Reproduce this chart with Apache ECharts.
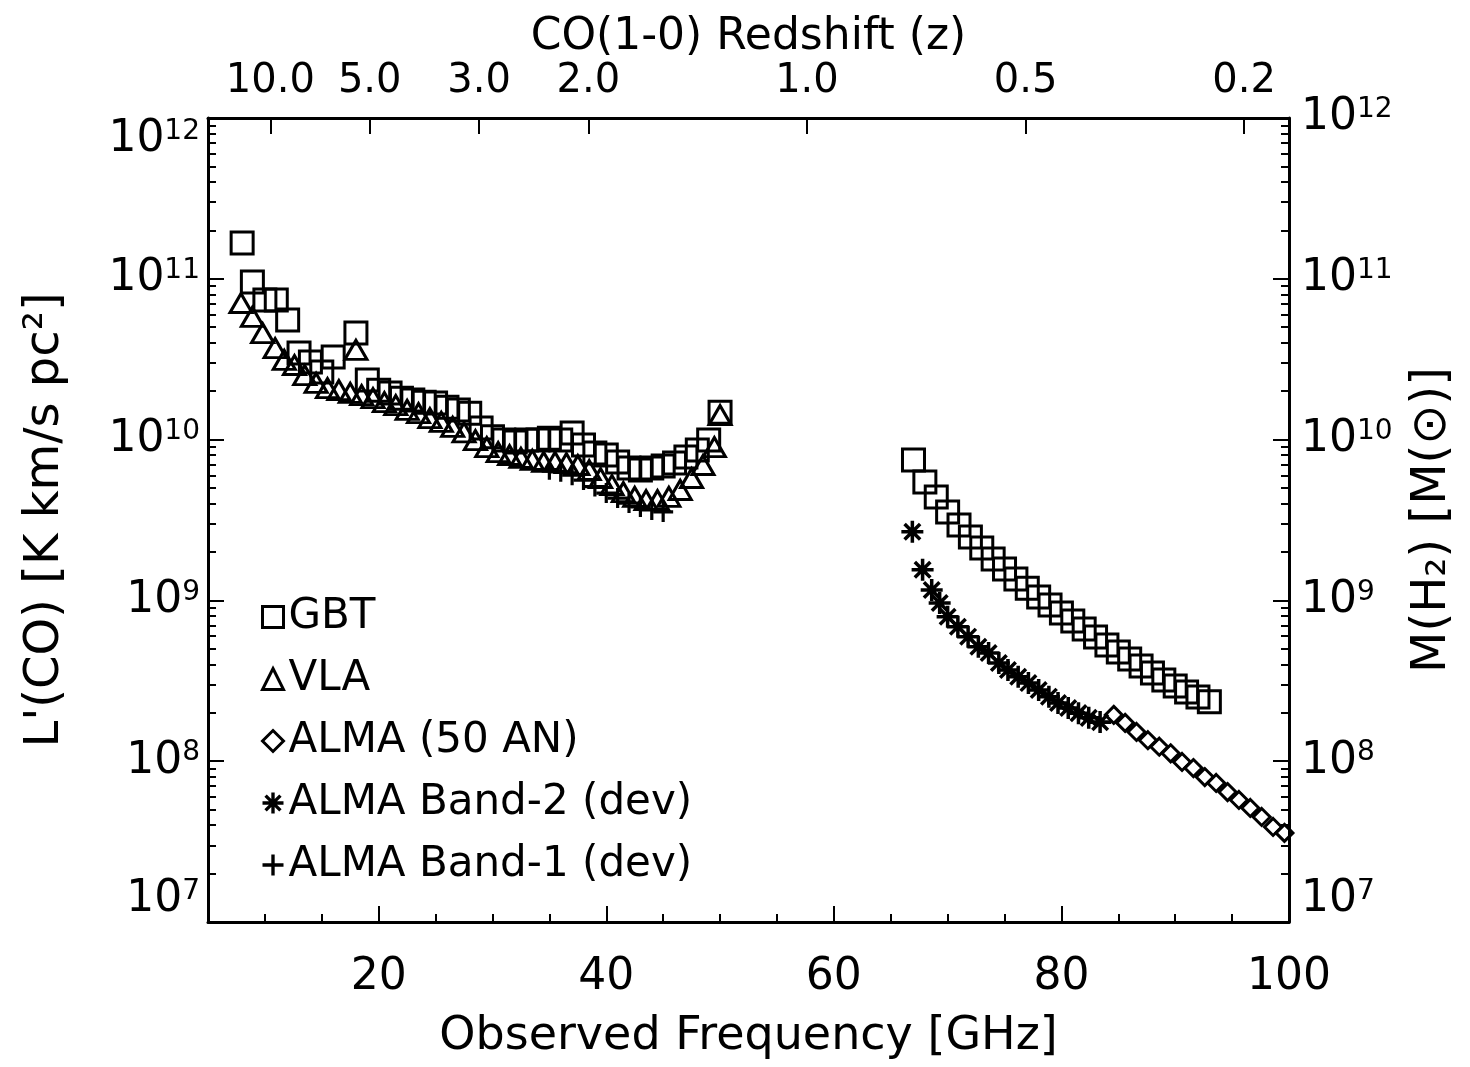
<!DOCTYPE html>
<html>
<head>
<meta charset="utf-8">
<script src="https://cdn.jsdelivr.net/npm/echarts@6/dist/echarts.min.js"></script>
<style>
html,body{margin:0;padding:0;background:#fff;}
#chart{width:1470px;height:1067px;}
</style>
</head>
<body>
<div id="chart"></div>
<script>
// ---------------- data ----------------
const gbtFreq = [8.0, 8.9, 10.0, 11.0, 12.0, 13.0, 14.0, 15.0, 16.0, 18.0, 19.0, 20.0, 21.0, 22.0, 23.0, 24.0, 25.0, 26.0, 27.0, 28.0,
  29.0, 30.0, 31.0, 32.0, 33.0, 34.0, 35.0, 36.0, 37.0, 38.0, 39.0, 40.0, 41.0, 42.0, 43.0, 44.0, 45.0, 46.0, 47.0, 48.0, 49.0, 50.0,
  67, 68, 69, 70, 71, 72, 73, 74, 75, 76, 77, 78, 79, 80, 81, 82, 83, 84, 85, 86, 87, 88, 89, 90, 91, 92, 93];
const gbtLco = [1.67e11, 9.55e10, 7.38e10, 7.38e10, 5.54e10, 3.46e10, 3.04e10, 2.63e10, 3.26e10, 4.60e10, 2.35e10, 2.03e10, 1.95e10, 1.81e10, 1.76e10, 1.71e10, 1.69e10, 1.59e10, 1.53e10, 1.46e10,
  1.18e10, 1.04e10, 9.94e9, 9.66e9, 9.94e9, 9.94e9, 1.02e10, 9.94e9, 1.10e10, 9.26e9, 8.25e9, 8.02e9, 7.26e9, 6.66e9, 6.47e9, 6.66e9, 6.85e9, 7.15e9, 7.80e9, 8.62e9, 9.94e9, 1.48e10,
  7.47e9, 5.45e9, 4.40e9, 3.55e9, 2.94e9, 2.48e9, 2.12e9, 1.81e9, 1.57e9, 1.36e9, 1.19e9, 1.05e9, 9.36e8, 8.35e8, 7.45e8, 6.64e8, 5.92e8, 5.28e8, 4.78e8, 4.32e8, 3.91e8, 3.54e8, 3.20e8, 2.94e8, 2.69e8, 2.51e8, 2.34e8];

const vlaFreq = [7.9, 8.9, 9.8, 10.9, 11.7, 12.6, 13.5, 14.5, 15.5, 16.5, 17.5, 18.0, 18.5, 19.5, 20.5, 21.5, 22.5, 23.5, 24.5, 25.5,
  26.5, 27.5, 28.5, 29.5, 30.5, 31.5, 32.5, 33.5, 34.5, 35.5, 36.5, 37.5, 38.5, 39.5, 40.5, 41.5, 42.5, 43.5, 44.5, 45.5, 46.5, 47.5, 48.5, 49.5, 50.0];
const vlaLco = [7.07e10, 5.79e10, 4.60e10, 3.71e10, 3.13e10, 2.91e10, 2.52e10, 2.25e10, 2.09e10, 2.03e10, 1.95e10, 3.61e10, 1.89e10, 1.81e10, 1.71e10, 1.64e10, 1.53e10, 1.46e10, 1.36e10, 1.29e10,
  1.20e10, 1.11e10, 9.94e9, 8.99e9, 8.37e9, 8.02e9, 7.69e9, 7.47e9, 7.26e9, 7.26e9, 7.15e9, 6.95e9, 6.47e9, 5.77e9, 5.22e9, 4.72e9, 4.40e9, 4.21e9, 4.21e9, 4.40e9, 4.86e9, 5.77e9, 6.95e9, 8.99e9, 1.42e10];

const almaFreq = [84.6, 85.6, 86.6, 87.6, 88.6, 89.6, 90.6, 91.6, 92.6, 93.6, 94.6, 95.6, 96.6, 97.6, 98.6, 99.6];
const almaLco = [1.94e8, 1.73e8, 1.52e8, 1.35e8, 1.23e8, 1.12e8, 9.89e7, 9.07e7, 7.97e7, 7.32e7, 6.43e7, 5.74e7, 5.12e7, 4.50e7, 3.90e7, 3.58e7];

const band2Freq = [66.9, 67.8, 68.6, 69.3, 70.0, 70.9, 71.8, 72.7, 73.6, 74.5, 75.3, 76.2, 77.1, 78.0, 78.9, 79.7, 80.6, 81.5, 82.4, 83.4];
const band2Lco = [2.67e9, 1.55e9, 1.16e9, 9.63e8, 7.92e8, 6.86e8, 5.95e8, 5.15e8, 4.71e8, 4.08e8, 3.69e8, 3.35e8, 3.06e8, 2.77e8, 2.52e8, 2.30e8, 2.14e8, 1.99e8, 1.86e8, 1.75e8];

const band1Freq = [35.0, 36.0, 37.0, 38.0, 39.0, 40.0, 41.0, 42.0, 43.0, 44.0, 45.0];
const band1Lco = [6.5e9, 6.3e9, 6.0e9, 5.6e9, 5.1e9, 4.65e9, 4.33e9, 4.03e9, 3.81e9, 3.65e9, 3.55e9];

// tick labels
const xTickValues = [20, 40, 60, 80, 100];
const xMinorTickValues = [10, 15, 25, 30, 35, 45, 50, 55, 65, 70, 75, 85, 90, 95];
const zTickValues = [10.0, 5.0, 3.0, 2.0, 1.0, 0.5, 0.2];
const zTickLabels = ['10.0', '5.0', '3.0', '2.0', '1.0', '0.5', '0.2'];
const yTickExponents = [7, 8, 9, 10, 11, 12];
const CO_REST_GHZ = 115.271;

// ---------------- helpers ----------------
const pairs = (xs, ys) => xs.map((x, i) => [x, ys[i]]);
const zFreqs = zTickValues.map(z => CO_REST_GHZ / (1 + z));
const yMajor = yTickExponents.map(e => Math.pow(10, e));
const yMinor = [];
for (let e = 7; e < 12; e++) for (let m = 2; m <= 9; m++) yMinor.push(m * Math.pow(10, e));

const FONT = 'DejaVu Sans';
const BLACK = '#000';
const powRich = {
  b: {fontSize: 44, fontFamily: FONT, color: BLACK},
  s: {fontSize: 28, fontFamily: FONT, color: BLACK, verticalAlign: 'top', padding: [0, 0, 14, 0]}
};
const powFormatter = v => '{b|10}{s|' + Math.round(Math.log10(v)) + '}';

const ASTERISK = 'path://M-1.6,-10L1.6,-10L1.6,10L-1.6,10Z M-10,-1.6L10,-1.6L10,1.6L-10,1.6Z M-8.2,-5.94L-5.94,-8.2L8.2,5.94L5.94,8.2Z M-5.94,8.2L-8.2,5.94L5.94,-8.2L8.2,-5.94Z';
const PLUS = 'path://M-1.6,-10L1.6,-10L1.6,10L-1.6,10Z M-10,-1.6L10,-1.6L10,1.6L-10,1.6Z';

function yAxisMajor(pos) {
  return {
    type: 'log', logBase: 10, min: 1e7, max: 1e12, position: pos,
    axisLine: {show: true, onZero: false, lineStyle: {color: BLACK, width: 3}},
    axisTick: {show: true, inside: true, length: 16, customValues: yMajor, lineStyle: {color: BLACK, width: 2}},
    axisLabel: {show: true, customValues: yMajor, formatter: powFormatter, rich: powRich,
      margin: pos === 'left' ? 8 : 12,
      verticalAlignMinLabel: 'bottom', verticalAlignMaxLabel: pos === 'left' ? 'top' : 'middle'},
    splitLine: {show: false}, minorTick: {show: false},
    nameLocation: 'middle', nameRotate: 90,
    nameTextStyle: {fontSize: 48, fontFamily: FONT, color: BLACK}
  };
}
function yAxisMinor(pos) {
  return {
    type: 'log', logBase: 10, min: 1e7, max: 1e12, position: pos,
    axisLine: {show: false},
    axisTick: {show: true, inside: true, length: 8, customValues: yMinor, lineStyle: {color: BLACK, width: 2}},
    axisLabel: {show: false}, splitLine: {show: false}
  };
}

const yLeft = yAxisMajor('left');
yLeft.name = "L'(CO) [K km/s pc\u00B2]";
yLeft.nameGap = 138;
const yRight = yAxisMajor('right');
yRight.name = 'M(H\u2082) [M(\u2299)]';
yRight.nameGap = 120;

const openIcon = {color: 'rgba(255,255,255,0)', borderColor: BLACK, borderWidth: 3};

const option = {
  animation: false,
  backgroundColor: '#fff',
  grid: {left: 208, right: 181, top: 118, bottom: 145, containLabel: false},
  legend: {
    orient: 'vertical', left: 256, top: 590,
    itemWidth: 21, itemHeight: 21, itemGap: 18,
    selectedMode: false,
    textStyle: {fontSize: 42, fontFamily: FONT, color: BLACK, lineHeight: 44},
    data: [
      {name: 'GBT', itemStyle: openIcon},
      {name: 'VLA', itemStyle: openIcon},
      {name: 'ALMA (50 AN)', itemStyle: openIcon},
      {name: 'ALMA Band-2 (dev)'},
      {name: 'ALMA Band-1 (dev)'}
    ]
  },
  xAxis: [
    {
      type: 'value', min: 5, max: 100, position: 'bottom',
      axisLine: {show: true, onZero: false, lineStyle: {color: BLACK, width: 3}},
      axisTick: {show: true, inside: true, length: 16, customValues: xTickValues, lineStyle: {color: BLACK, width: 2}},
      axisLabel: {show: true, customValues: xTickValues, margin: 34, fontSize: 44, fontFamily: FONT, color: BLACK},
      splitLine: {show: false},
      name: 'Observed Frequency [GHz]', nameLocation: 'middle', nameGap: 92,
      nameTextStyle: {fontSize: 46, fontFamily: FONT, color: BLACK}
    },
    {
      type: 'value', min: 5, max: 100, position: 'bottom',
      axisLine: {show: false},
      axisTick: {show: true, inside: true, length: 8, customValues: xMinorTickValues, lineStyle: {color: BLACK, width: 2}},
      axisLabel: {show: false}, splitLine: {show: false}
    },
    {
      type: 'value', min: 5, max: 100, position: 'top',
      axisLine: {show: true, onZero: false, lineStyle: {color: BLACK, width: 3}},
      axisTick: {show: true, inside: true, length: 16, customValues: zFreqs, lineStyle: {color: BLACK, width: 2}},
      axisLabel: {show: true, customValues: zFreqs, margin: 16, fontSize: 40, fontFamily: FONT, color: BLACK,
        formatter: v => {
          let best = 0;
          zFreqs.forEach((f, i) => { if (Math.abs(f - v) < Math.abs(zFreqs[best] - v)) best = i; });
          return zTickLabels[best];
        }},
      splitLine: {show: false},
      name: 'CO(1-0) Redshift (z)', nameLocation: 'middle', nameGap: 58, nameMoveOverlap: false,
      nameTextStyle: {fontSize: 44, fontFamily: FONT, color: BLACK}
    }
  ],
  yAxis: [yLeft, yAxisMinor('left'), yRight, yAxisMinor('right')],
  series: [
    {
      name: 'GBT', type: 'scatter', xAxisIndex: 0, yAxisIndex: 0,
      symbol: 'rect', symbolSize: 22,
      itemStyle: {color: 'rgba(255,255,255,0)', borderColor: BLACK, borderWidth: 3, opacity: 1},
      emphasis: {disabled: true},
      data: pairs(gbtFreq, gbtLco)
    },
    {
      name: 'VLA', type: 'scatter', xAxisIndex: 0, yAxisIndex: 0,
      symbol: 'triangle', symbolSize: [22, 19],
      itemStyle: {color: 'rgba(255,255,255,0)', borderColor: BLACK, borderWidth: 3, opacity: 1},
      emphasis: {disabled: true},
      data: pairs(vlaFreq, vlaLco)
    },
    {
      name: 'ALMA (50 AN)', type: 'scatter', xAxisIndex: 0, yAxisIndex: 0,
      symbol: 'diamond', symbolSize: 17,
      itemStyle: {color: 'rgba(255,255,255,0)', borderColor: BLACK, borderWidth: 3, opacity: 1},
      emphasis: {disabled: true},
      data: pairs(almaFreq, almaLco)
    },
    {
      name: 'ALMA Band-2 (dev)', type: 'scatter', xAxisIndex: 0, yAxisIndex: 0,
      symbol: ASTERISK, symbolSize: 22,
      itemStyle: {color: BLACK, borderWidth: 0, opacity: 1},
      emphasis: {disabled: true},
      data: pairs(band2Freq, band2Lco)
    },
    {
      name: 'ALMA Band-1 (dev)', type: 'scatter', xAxisIndex: 0, yAxisIndex: 0,
      symbol: PLUS, symbolSize: 20,
      itemStyle: {color: BLACK, borderWidth: 0, opacity: 1},
      emphasis: {disabled: true},
      data: pairs(band1Freq, band1Lco)
    }
  ]
};

const chart = echarts.init(document.getElementById('chart'), null, {renderer: 'canvas'});
chart.setOption(option);
</script>
</body>
</html>
